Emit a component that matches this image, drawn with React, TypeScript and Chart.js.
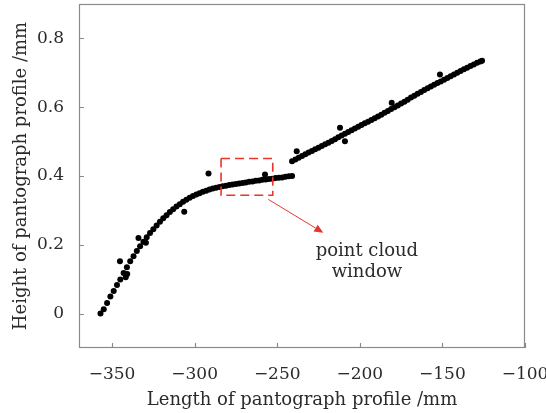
import React, { useEffect, useRef } from 'react';
import { Chart, registerables } from 'chart.js';

Chart.register(...registerables);

// Lower branch of the profile (mm, mm)
const lowerX = [
  -357, -355, -353, -351, -349, -347, -345, -343, -341, -339, -337, -335, -333, -331, -329, -327, -325, -323, -321,
  -319, -317, -315, -313, -311, -309, -307, -305, -303, -301, -299, -297, -295, -293, -291, -289, -287, -285, -283,
  -281, -279, -277, -275, -273, -271, -269, -267, -265, -263, -261, -259, -257, -255, -253, -251, -249, -247, -245,
  -243, -241,
];
const lowerY = [
  0.0, 0.013, 0.031, 0.05, 0.066, 0.083, 0.099, 0.118, 0.135, 0.152, 0.167, 0.182, 0.196, 0.209, 0.222, 0.234, 0.245,
  0.256, 0.267, 0.277, 0.286, 0.295, 0.303, 0.311, 0.318, 0.325, 0.331, 0.337, 0.342, 0.346, 0.35, 0.354, 0.357,
  0.361, 0.364, 0.366, 0.368, 0.37, 0.372, 0.374, 0.375, 0.377, 0.378, 0.38, 0.381, 0.383, 0.384, 0.386, 0.387,
  0.389, 0.39, 0.391, 0.392, 0.394, 0.395, 0.396, 0.398, 0.399, 0.4,
];

// Upper branch of the profile
const upperX = [
  -241, -239, -237, -235, -233, -231, -229, -227, -225, -223, -221, -219, -217, -215, -213, -211, -209, -207, -205,
  -203, -201, -199, -197, -195, -193, -191, -189, -187, -185, -183, -181, -179, -177, -175, -173, -171, -169, -167,
  -165, -163, -161, -159, -157, -155, -153, -151, -149, -147, -145, -143, -141, -139, -137, -135, -133, -131, -129,
  -127, -126,
];
const upperY = [
  0.443, 0.448, 0.453, 0.458, 0.463, 0.468, 0.473, 0.478, 0.482, 0.487, 0.492, 0.497, 0.502, 0.507, 0.513, 0.518,
  0.523, 0.528, 0.533, 0.538, 0.543, 0.548, 0.553, 0.558, 0.563, 0.568, 0.573, 0.578, 0.584, 0.589, 0.595, 0.6,
  0.605, 0.611, 0.616, 0.622, 0.628, 0.633, 0.639, 0.644, 0.65, 0.655, 0.66, 0.665, 0.67, 0.675, 0.68, 0.685, 0.69,
  0.695, 0.7, 0.705, 0.71, 0.715, 0.72, 0.724, 0.729, 0.733, 0.735,
];

// Scattered outlier points
const outlierX = [-345.2, -341.7, -340.8, -334, -329.5, -306.3, -291.6, -257.4, -238.2, -212, -209, -180.7, -151.5];
const outlierY = [0.152, 0.106, 0.115, 0.22, 0.206, 0.296, 0.407, 0.404, 0.472, 0.54, 0.501, 0.613, 0.695];

const xTicks = [-350, -300, -250, -200, -150, -100];
const yTicks = [0, 0.2, 0.4, 0.6, 0.8];

const xTitle = 'Length of pantograph profile /mm';
const yTitle = 'Height of pantograph profile /mm';
const calloutLines = ['point cloud', 'window'];

// Annotation geometry in data units
const windowBox = { x0: -284, x1: -252.7, y0: 0.344, y1: 0.451 };
const arrowFrom = { x: -255.4, y: 0.332 };
const arrowTo = { x: -222.1, y: 0.235 };
const calloutPos = { x: -195.7, y: [0.1687, 0.1076] };

const SERIF = '"DejaVu Serif", serif';
const RED = '#e8362b';

const fmt = (v: number) => {
  if (v === 0) return '0';
  const s = Math.abs(v) < 1 ? Math.abs(v).toFixed(1) : String(Math.abs(v));
  return (v < 0 ? '\u2212' : '') + s;
};

const decorPlugin = {
  id: 'decor',
  afterDraw(chart: any) {
    const { ctx, chartArea: a, scales } = chart;
    const xs = scales.x;
    const ys = scales.y;
    ctx.save();
    // frame
    ctx.strokeStyle = '#8a8a8a';
    ctx.lineWidth = 1.2;
    ctx.strokeRect(a.left + 0.5, a.top + 0.5, a.right - a.left - 1, a.bottom - a.top - 1);
    // inward ticks
    ctx.beginPath();
    xTicks.forEach((t) => {
      const px = Math.round(xs.getPixelForValue(t)) + 0.5;
      ctx.moveTo(px, a.bottom);
      ctx.lineTo(px, a.bottom - 5);
    });
    yTicks.forEach((t) => {
      const py = Math.round(ys.getPixelForValue(t)) + 0.5;
      ctx.moveTo(a.left, py);
      ctx.lineTo(a.left + 5, py);
    });
    ctx.stroke();

    // dashed window
    const bx0 = xs.getPixelForValue(windowBox.x0);
    const bx1 = xs.getPixelForValue(windowBox.x1);
    const by0 = ys.getPixelForValue(windowBox.y1);
    const by1 = ys.getPixelForValue(windowBox.y0);
    ctx.strokeStyle = RED;
    ctx.lineWidth = 1.6;
    ctx.setLineDash([9, 5]);
    ctx.strokeRect(bx0, by0, bx1 - bx0, by1 - by0);
    ctx.setLineDash([]);

    // arrow
    const ax0 = xs.getPixelForValue(arrowFrom.x);
    const ay0 = ys.getPixelForValue(arrowFrom.y);
    const ax1 = xs.getPixelForValue(arrowTo.x);
    const ay1 = ys.getPixelForValue(arrowTo.y);
    const ang = Math.atan2(ay1 - ay0, ax1 - ax0);
    const hl = 9;
    const hw = 4;
    ctx.strokeStyle = RED;
    ctx.fillStyle = RED;
    ctx.lineWidth = 1;
    ctx.beginPath();
    ctx.moveTo(ax0, ay0);
    ctx.lineTo(ax1 - hl * Math.cos(ang), ay1 - hl * Math.sin(ang));
    ctx.stroke();
    ctx.beginPath();
    ctx.moveTo(ax1, ay1);
    ctx.lineTo(ax1 - hl * Math.cos(ang) + hw * Math.sin(ang), ay1 - hl * Math.sin(ang) - hw * Math.cos(ang));
    ctx.lineTo(ax1 - hl * Math.cos(ang) - hw * Math.sin(ang), ay1 - hl * Math.sin(ang) + hw * Math.cos(ang));
    ctx.closePath();
    ctx.fill();

    // callout text
    ctx.fillStyle = '#2b2b2b';
    ctx.font = `18px ${SERIF}`;
    ctx.textAlign = 'center';
    ctx.textBaseline = 'alphabetic';
    const cx = xs.getPixelForValue(calloutPos.x);
    calloutLines.forEach((line, i) => {
      ctx.fillText(line, cx, ys.getPixelForValue(calloutPos.y[i]));
    });
    ctx.restore();
  },
};

export default function App() {
  const ref = useRef<HTMLCanvasElement | null>(null);
  useEffect(() => {
    document.body.style.margin = '0';
    if (!ref.current) return;
    const pts = (xa: number[], ya: number[]) => xa.map((x, i) => ({ x, y: ya[i] }));
    const ds = (data: any[]) => ({
      data,
      backgroundColor: '#000',
      borderColor: '#000',
      borderWidth: 0,
      pointRadius: 3,
      pointHoverRadius: 3,
    });
    const chart = new Chart(ref.current, {
      type: 'scatter',
      data: {
        datasets: [ds(pts(lowerX, lowerY)), ds(pts(upperX, upperY)), ds(pts(outlierX, outlierY))],
      },
      options: {
        animation: false,
        responsive: false,
        events: [],
        layout: { padding: { top: 4, right: 21, left: 0, bottom: 0 } },
        plugins: { legend: { display: false }, tooltip: { enabled: false } },
        scales: {
          x: {
            type: 'linear',
            min: -370,
            max: -100,
            grid: { display: false },
            border: { display: false },
            afterBuildTicks: (s: any) => {
              s.ticks = xTicks.map((v) => ({ value: v }));
            },
            afterFit: (s: any) => {
              s.height = 65;
              s.paddingLeft = 0;
              s.paddingRight = 0;
            },
            ticks: {
              autoSkip: false,
              maxRotation: 0,
              padding: 8,
              color: '#2b2b2b',
              font: { family: SERIF, size: 17 },
              callback: (v: any) => fmt(Number(v)),
            },
            title: {
              display: true,
              text: xTitle,
              color: '#2b2b2b',
              font: { family: SERIF, size: 18 },
              padding: { top: 0, bottom: 2 },
            },
          },
          y: {
            type: 'linear',
            min: -0.1,
            max: 0.9,
            grid: { display: false },
            border: { display: false },
            afterBuildTicks: (s: any) => {
              s.ticks = yTicks.map((v) => ({ value: v }));
            },
            afterFit: (s: any) => {
              s.width = 79;
              s.paddingTop = 0;
              s.paddingBottom = 0;
            },
            ticks: {
              padding: 7,
              color: '#2b2b2b',
              font: { family: SERIF, size: 17 },
              callback: (v: any) => fmt(Number(v)),
            },
            title: {
              display: true,
              text: yTitle,
              color: '#2b2b2b',
              font: { family: SERIF, size: 18 },
              padding: { top: 11, bottom: 0 },
            },
          },
        },
      },
      plugins: [decorPlugin],
    });
    return () => chart.destroy();
  }, []);
  return <canvas ref={ref} width={546} height={413} style={{ display: 'block' }} />;
}
